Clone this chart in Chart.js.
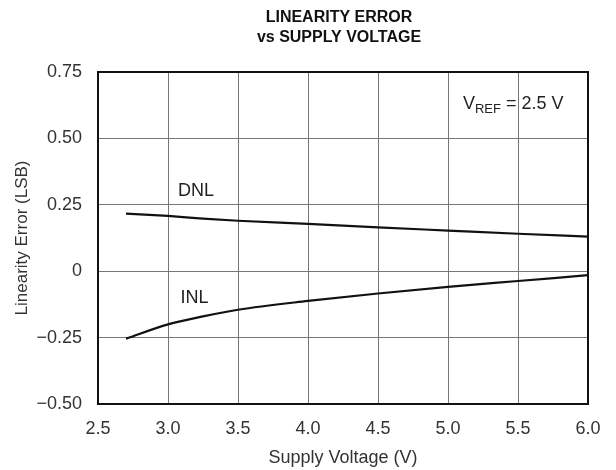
<!DOCTYPE html>
<html>
<head>
<meta charset="utf-8">
<script src="https://cdn.jsdelivr.net/npm/chart.js@4"></script>
<style>
  html, body { margin: 0; padding: 0; background: #fff; }
  #wrap { width: 616px; height: 470px; }
</style>
</head>
<body>
<div id="wrap"><canvas id="myChart" width="616" height="470"></canvas></div>
<script>
var voltages = [2.7, 3.0, 3.25, 3.5, 4.0, 4.5, 5.0, 5.5, 6.0];
var dnlValues = [0.217, 0.208, 0.198, 0.190, 0.178, 0.165, 0.153, 0.141, 0.130];
var inlValues = [-0.254, -0.200, -0.170, -0.145, -0.112, -0.084, -0.059, -0.037, -0.015];
var xTicks = [2.5, 3.0, 3.5, 4.0, 4.5, 5.0, 5.5, 6.0];
var yTicks = [-0.5, -0.25, 0, 0.25, 0.5, 0.75];
var titleLines = ['LINEARITY ERROR', 'vs SUPPLY VOLTAGE'];

var FONT = '"Liberation Sans", Arial, sans-serif';

function toPoints(xs, ys) {
    return xs.map(function(x, i) { return { x: x, y: ys[i] }; });
}

function fmtY(v) {
    if (Math.abs(v) < 1e-9) return '0';
    var s = Math.abs(v).toFixed(2);
    return v < 0 ? '\u2212' + s : s;
}

// titre, cadre et étiquettes dans le graphique
var extras = {
    id: 'extras',
    afterDraw: function(chart) {
        var ctx = chart.ctx;
        var area = chart.chartArea;
        var xs = chart.scales.x, ys = chart.scales.y;
        ctx.save();

        // cadre noir
        ctx.strokeStyle = '#111';
        ctx.lineWidth = 2;
        ctx.strokeRect(area.left, area.top, area.right - area.left, area.bottom - area.top);

        // titre
        ctx.fillStyle = '#111';
        ctx.font = 'bold 16px ' + FONT;
        ctx.textAlign = 'center';
        ctx.textBaseline = 'middle';
        var cx = (area.left + area.right) / 2 - 4;
        ctx.fillText(titleLines[0], cx, 18);
        ctx.fillText(titleLines[1], cx, 38);

        // DNL / INL
        ctx.fillStyle = '#222';
        ctx.font = '18px ' + FONT;
        ctx.fillText('DNL', xs.getPixelForValue(3.2), ys.getPixelForValue(0.30));
        ctx.fillText('INL', xs.getPixelForValue(3.19), ys.getPixelForValue(-0.10));

        // V_REF = 2.5 V
        ctx.textAlign = 'left';
        ctx.textBaseline = 'alphabetic';
        var px = xs.getPixelForValue(5.107);
        var py = ys.getPixelForValue(0.611);
        ctx.font = '18px ' + FONT;
        ctx.fillText('V', px, py);
        px += ctx.measureText('V').width;
        ctx.font = '13px ' + FONT;
        ctx.fillText('REF', px, py + 4);
        px += ctx.measureText('REF').width;
        ctx.font = '18px ' + FONT;
        ctx.fillText(' = 2.5 V', px, py);

        ctx.restore();
    }
};

var ctx = document.getElementById('myChart');

var myChart = new Chart(ctx.getContext('2d'), {
    type: 'line',
    data: {
        datasets: [{
            label: 'DNL',
            data: toPoints(voltages, dnlValues),
            borderColor: '#111',
            borderWidth: 2.2,
            pointRadius: 0,
            cubicInterpolationMode: 'monotone'
        }, {
            label: 'INL',
            data: toPoints(voltages, inlValues),
            borderColor: '#111',
            borderWidth: 2.2,
            pointRadius: 0,
            cubicInterpolationMode: 'monotone'
        }]
    },
    options: {
        responsive: false,
        animation: false,
        events: [],
        layout: { padding: { top: 72, right: 28, left: 0, bottom: 0 } },
        plugins: {
            legend: { display: false },
            tooltip: { enabled: false },
            title: { display: false }
        },
        scales: {
            x: {
                type: 'linear',
                min: 2.5,
                max: 6.0,
                afterBuildTicks: function(scale) {
                    scale.ticks = xTicks.map(function(v) { return { value: v }; });
                },
                afterFit: function(scale) { scale.height = 66; },
                grid: { color: '#777', lineWidth: 1, drawTicks: false },
                border: { display: false },
                ticks: {
                    padding: 14,
                    color: '#333',
                    font: { family: FONT, size: 18 },
                    maxRotation: 0,
                    callback: function(v) { return Number(v).toFixed(1); }
                },
                title: {
                    display: true,
                    text: 'Supply Voltage (V)',
                    color: '#333',
                    font: { family: FONT, size: 18 },
                    padding: { top: 0, bottom: 1 }
                }
            },
            y: {
                type: 'linear',
                min: -0.5,
                max: 0.75,
                afterBuildTicks: function(scale) {
                    scale.ticks = yTicks.map(function(v) { return { value: v }; });
                },
                afterFit: function(scale) { scale.width = 98; },
                grid: { color: '#777', lineWidth: 1, drawTicks: false },
                border: { display: false },
                ticks: {
                    padding: 16,
                    color: '#333',
                    font: { family: FONT, size: 18 },
                    callback: function(v) { return fmtY(v); }
                },
                title: {
                    display: true,
                    text: 'Linearity Error (LSB)',
                    color: '#333',
                    font: { family: FONT, size: 17 },
                    padding: { top: 12, bottom: 0 }
                }
            }
        }
    },
    plugins: [extras]
});
</script>
</body>
</html>
